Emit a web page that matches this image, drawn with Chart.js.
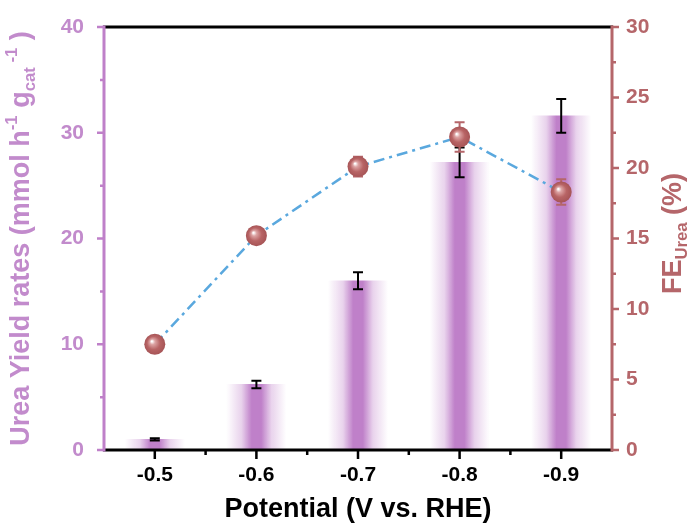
<!DOCTYPE html>
<html>
<head>
<meta charset="utf-8">
<script src="https://cdn.jsdelivr.net/npm/chart.js@4"></script>
<style>
  html, body { margin: 0; padding: 0; background: #fff; }
  #wrap { width: 696px; height: 530px; }
</style>
</head>
<body>
<div id="wrap"><canvas id="myChart" width="696" height="530"></canvas></div>
<script>
const potentials = ['-0.5', '-0.6', '-0.7', '-0.8', '-0.9']
const yieldRates = [1.0, 6.2, 16.0, 27.2, 31.6]
const yieldErr = [0.1, 0.35, 0.8, 1.4, 1.6]
const feUrea = [7.5, 15.2, 20.1, 22.2, 18.3]
const feErr = [0.2, 0.55, 0.7, 1.05, 0.9]
const yTicks = [0, 10, 20, 30, 40]
const y1Ticks = [0, 5, 10, 15, 20, 25, 30]

const PURPLE = '#bf80c9'
const PURPLE_TXT = '#c28bcc'
const RED = '#b5666a'
const FONT = '"Liberation Sans", Arial, sans-serif'

function barGradient(context) {
  const chart = context.chart
  const x = chart.scales.x
  if (!x || !chart.chartArea) return PURPLE
  const px = x.getPixelForValue(context.dataIndex)
  const g = chart.ctx.createLinearGradient(px - 30, 0, px + 30, 0)
  g.addColorStop(0, 'rgba(191,128,201,0)')
  g.addColorStop(0.25, 'rgba(191,128,201,0.35)')
  g.addColorStop(0.42, 'rgba(191,128,201,1)')
  g.addColorStop(0.58, 'rgba(191,128,201,1)')
  g.addColorStop(0.75, 'rgba(191,128,201,0.35)')
  g.addColorStop(1, 'rgba(191,128,201,0)')
  return g
}

function sphere(context) {
  const chart = context.chart
  const x = chart.scales.x, y1 = chart.scales.y1
  if (!x || !y1 || !chart.chartArea) return RED
  const cx = x.getPixelForValue(context.dataIndex)
  const cy = y1.getPixelForValue(feUrea[context.dataIndex])
  const g = chart.ctx.createRadialGradient(cx - 3, cy - 3, 0.5, cx, cy, 10.5)
  g.addColorStop(0, '#ffffff')
  g.addColorStop(0.22, '#dca3a3')
  g.addColorStop(0.6, '#b86465')
  g.addColorStop(1, '#a65456')
  return g
}

function drawRich(ctx, parts, size, cx, cy, rotate) {
  ctx.save()
  ctx.translate(cx, cy)
  if (rotate) ctx.rotate(-Math.PI / 2)
  let total = 0
  parts.forEach(p => {
    const s = p[1] === 'n' ? size : size * 0.62
    ctx.font = 'bold ' + s + 'px ' + FONT
    p.w = ctx.measureText(p[0]).width
    total += p.w
  })
  let x = -total / 2
  const base = size * 0.36
  ctx.textBaseline = 'alphabetic'
  ctx.textAlign = 'left'
  parts.forEach(p => {
    const s = p[1] === 'n' ? size : size * 0.62
    ctx.font = 'bold ' + s + 'px ' + FONT
    let dy = 0
    if (p[1] === 'sup') dy = -size * 0.42
    if (p[1] === 'sub') dy = size * 0.22
    ctx.fillText(p[0], x, base + dy)
    x += p.w
  })
  ctx.restore()
}

function errBar(ctx, px, top, bottom, cap) {
  ctx.beginPath()
  ctx.moveTo(px, top); ctx.lineTo(px, bottom)
  ctx.moveTo(px - cap, top); ctx.lineTo(px + cap, top)
  ctx.moveTo(px - cap, bottom); ctx.lineTo(px + cap, bottom)
  ctx.stroke()
}

const decor = {
  id: 'decor',
  beforeDatasetDraw(chart, args) {
    if (args.index !== 0) return
    const {ctx, scales: {x, y1}} = chart
    ctx.save()
    ctx.strokeStyle = RED
    ctx.lineWidth = 2
    feUrea.forEach((v, i) => {
      const px = x.getPixelForValue(i)
      errBar(ctx, px, y1.getPixelForValue(v + feErr[i]), y1.getPixelForValue(v - feErr[i]), 5)
    })
    ctx.restore()
  },
  afterDatasetDraw(chart, args) {
    if (args.index !== 1) return
    const {ctx, scales: {x, y}} = chart
    ctx.save()
    ctx.strokeStyle = '#000'
    ctx.lineWidth = 2
    yieldRates.forEach((v, i) => {
      const px = x.getPixelForValue(i)
      errBar(ctx, px, y.getPixelForValue(v + yieldErr[i]), y.getPixelForValue(v - yieldErr[i]), 5)
    })
    ctx.restore()
  },
  afterDraw(chart) {
    const {ctx, chartArea: a, scales: {x, y, y1}} = chart
    ctx.save()
    ctx.lineCap = 'butt'
    // frame
    ctx.lineWidth = 3
    ctx.strokeStyle = '#000'
    ctx.beginPath()
    ctx.moveTo(a.left - 1, a.top); ctx.lineTo(a.right + 1, a.top)
    ctx.moveTo(a.left - 1, a.bottom); ctx.lineTo(a.right + 1, a.bottom)
    ctx.stroke()
    ctx.strokeStyle = PURPLE
    ctx.beginPath()
    ctx.moveTo(a.left, a.top - 1.5); ctx.lineTo(a.left, a.bottom + 1.5)
    ctx.stroke()
    ctx.strokeStyle = RED
    ctx.beginPath()
    ctx.moveTo(a.right, a.top - 1.5); ctx.lineTo(a.right, a.bottom + 1.5)
    ctx.stroke()
    // ticks
    ctx.lineWidth = 2.5
    ctx.strokeStyle = '#000'
    ctx.beginPath()
    for (let i = 0; i < potentials.length; i++) {
      const px = x.getPixelForValue(i)
      ctx.moveTo(px, a.bottom); ctx.lineTo(px, a.bottom + 9)
      if (i < potentials.length - 1) {
        const mx = (px + x.getPixelForValue(i + 1)) / 2
        ctx.moveTo(mx, a.bottom); ctx.lineTo(mx, a.bottom + 5)
      }
    }
    ctx.stroke()
    ctx.strokeStyle = PURPLE
    ctx.beginPath()
    for (let v = 0; v <= 40; v += 5) {
      const py = y.getPixelForValue(v)
      const len = v % 10 === 0 ? 7 : 4
      ctx.moveTo(a.left, py); ctx.lineTo(a.left - len, py)
    }
    ctx.stroke()
    ctx.strokeStyle = RED
    ctx.beginPath()
    for (let v = 0; v <= 30; v += 2.5) {
      const py = y1.getPixelForValue(v)
      const len = v % 5 === 0 ? 7 : 4
      ctx.moveTo(a.right, py); ctx.lineTo(a.right + len, py)
    }
    ctx.stroke()
    // titles
    const midY = (a.top + a.bottom) / 2
    ctx.fillStyle = PURPLE_TXT
    drawRich(ctx, [['Urea Yield rates (mmol h', 'n'], ['-1', 'sup'], [' g', 'n'], ['cat', 'sub'], [' -1', 'sup'], [' )', 'n']], 27, 19, midY, true)
    ctx.fillStyle = RED
    drawRich(ctx, [['FE', 'n'], ['Urea', 'sub'], [' (%)', 'n']], 27, 671, midY - 5, true)
    ctx.fillStyle = '#000'
    drawRich(ctx, [['Potential (V vs. RHE)', 'n']], 27, (a.left + a.right) / 2, 507, false)
    ctx.restore()
  }
}

const tickFont = {family: FONT, size: 21, weight: 'bold'}

new Chart('myChart', {
  data: {
    labels: potentials,
    datasets: [
      {
        type: 'line',
        data: feUrea,
        yAxisID: 'y1',
        order: 0,
        borderColor: '#5aa8de',
        borderWidth: 2.5,
        borderDash: [11, 5, 3, 5],
        pointRadius: 10.5,
        pointHoverRadius: 10.5,
        pointBorderWidth: 0,
        pointBackgroundColor: sphere,
        fill: false,
      },
      {
        type: 'bar',
        data: yieldRates,
        yAxisID: 'y',
        order: 1,
        backgroundColor: barGradient,
        barThickness: 60,
        borderWidth: 0,
      },
    ],
  },
  options: {
    responsive: false,
    animation: false,
    events: [],
    layout: {padding: {top: 27, left: 0, right: 0, bottom: 0}},
    plugins: {legend: {display: false}, tooltip: {enabled: false}},
    scales: {
      x: {
        type: 'category',
        offset: true,
        grid: {display: false, drawTicks: false},
        border: {display: false},
        ticks: {color: '#000', font: tickFont, padding: 13, maxRotation: 0},
        afterFit: s => { s.height = 80 },
      },
      y: {
        position: 'left',
        min: 0,
        max: 40,
        afterBuildTicks: s => { s.ticks = yTicks.map(v => ({value: v})) },
        grid: {display: false, drawTicks: true, tickLength: 18},
        border: {display: false},
        ticks: {color: PURPLE_TXT, font: tickFont, padding: 2},
        afterFit: s => { s.width = 104 },
      },
      y1: {
        position: 'right',
        min: 0,
        max: 30,
        afterBuildTicks: s => { s.ticks = y1Ticks.map(v => ({value: v})) },
        grid: {display: false, drawTicks: true, tickLength: 12},
        border: {display: false},
        ticks: {color: RED, font: tickFont, padding: 2},
        afterFit: s => { s.width = 84 },
      },
    },
  },
  plugins: [decor],
})
</script>
</body>
</html>
